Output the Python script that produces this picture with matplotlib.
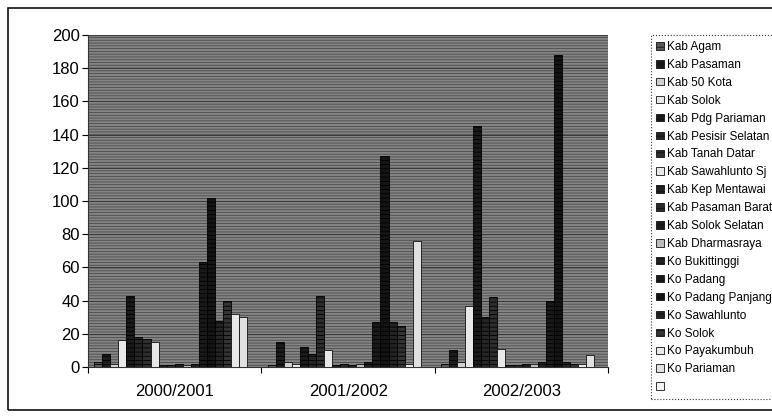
import numpy as np
import matplotlib
matplotlib.use("Agg")
from matplotlib import pyplot as plt
from matplotlib.patches import Rectangle, Patch

plt.rcParams['font.family'] = ['Liberation Sans', 'DejaVu Sans']
plt.rcParams['hatch.linewidth'] = 0.6

years = ['2000/2001', '2001/2002', '2002/2003']
regions = ['Kab Agam', 'Kab Pasaman', 'Kab 50 Kota', 'Kab Solok',
           'Kab Pdg Pariaman', 'Kab Pesisir Selatan', 'Kab Tanah Datar',
           'Kab Sawahlunto Sj', 'Kab Kep Mentawai', 'Kab Pasaman Barat',
           'Kab Solok Selatan', 'Kab Dharmasraya', 'Ko Bukittinggi',
           'Ko Padang', 'Ko Padang Panjang', 'Ko Sawahlunto', 'Ko Solok',
           'Ko Payakumbuh', 'Ko Pariaman', '']

y2000 = [3, 8, 2, 16, 43, 18, 17, 15, 1, 1, 2, 1, 2, 63, 102, 28, 40, 32, 30, 0]
y2001 = [1, 15, 3, 2, 12, 8, 43, 10, 1, 2, 1, 2, 3, 27, 127, 27, 25, 2, 76, 0]
y2002 = [2, 10, 3, 37, 145, 30, 42, 11, 1, 1, 2, 2, 3, 40, 188, 3, 2, 2, 7, 0]

# fill per series: dark for most, pale for the few outlined ones
light = {2, 3, 7, 11, 17, 18, 19}
fills = ['#5a5a5a', '#1c1c1c', '#d0d0d0', '#e8e8e8', '#1a1a1a', '#262626',
         '#2e2e2e', '#e8e8e8', '#222222', '#2a2a2a', '#1e1e1e', '#bdbdbd',
         '#202020', '#1a1a1a', '#141414', '#242424', '#333333', '#e8e8e8',
         '#e0e0e0', '#f2f2f2']

fig = plt.figure(figsize=(7.72, 4.18), dpi=100)
fig.patches.append(Rectangle((0.011, 0.019), 1.2, 0.962, transform=fig.transFigure,
                             fill=False, edgecolor='#111111', lw=1.2, zorder=0))

ax = fig.add_axes([0.114, 0.122, 0.674, 0.794])
ax.set_facecolor('#858585')
ax.add_patch(Rectangle((0, 0), 1, 1, transform=ax.transAxes, facecolor='none',
                       edgecolor='#4a4a4a', hatch='------', lw=0, zorder=0))

n = len(regions)
w = 1 / (n + 1.5)
x = np.arange(len(years))
vals = np.array([y2000, y2001, y2002])
for i in range(n):
    ec = '#111111' if i in light else '#000000'
    ax.bar(x + (i - (n - 1) / 2) * w, vals[:, i], w, color=fills[i],
           edgecolor=ec, lw=0.6, hatch=None if i in light else '----', zorder=3)

ax.set_ylim(0, 200)
ax.set_xlim(-0.5, 2.5)
ax.set_yticks(range(0, 201, 20))
ax.yaxis.grid(True, color='#3a3a3a', lw=0.7, zorder=1)
ax.set_xticks(x)
ax.set_xticklabels(years, fontsize=12)
ax.set_xticks([-0.5, 0.5, 1.5, 2.5], minor=True)
ax.tick_params(axis='x', which='major', length=0, pad=12)
ax.tick_params(axis='x', which='minor', length=4, width=0.8)
ax.tick_params(axis='y', labelsize=12, length=4, width=0.8, pad=2)
for s in ['top', 'right']:
    ax.spines[s].set_visible(False)
for s in ['left', 'bottom']:
    ax.spines[s].set_color('#333333')

handles = [Patch(facecolor=fills[i], edgecolor='#111111', lw=0.6,
                 hatch=None if i in light else '---') for i in range(n)]
leg = fig.legend(handles, regions, loc='upper left', bbox_to_anchor=(0.835, 0.93),
                 fontsize=8.5, handlelength=0.6, handleheight=0.6, handletextpad=0.3,
                 labelspacing=0.5, borderpad=0.5, fancybox=False, framealpha=1,
                 edgecolor='#333333')
leg.get_frame().set_linestyle(':')
leg.get_frame().set_linewidth(0.8)

fig.savefig('out.png', dpi=100)
